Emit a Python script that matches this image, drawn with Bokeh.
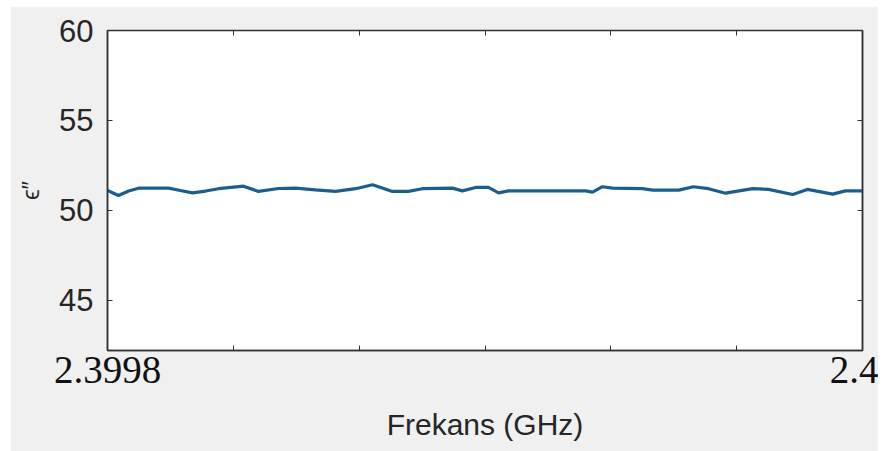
from bokeh.plotting import figure
from bokeh.models import FixedTicker, LinearAxis, Range1d, NumeralTickFormatter, CustomJSTickFormatter
from bokeh.embed import file_html
from bokeh.resources import INLINE

# Data
freq_ghz = [2.3998000, 2.3998029, 2.3998056, 2.3998082, 2.3998162, 2.3998193,
            2.3998225, 2.3998260, 2.3998294, 2.3998360, 2.3998400, 2.3998453,
            2.3998498, 2.3998551, 2.3998604, 2.3998657, 2.3998702, 2.3998755,
            2.3998797, 2.3998834, 2.3998914, 2.3998940, 2.3998975, 2.3999009,
            2.3999036, 2.3999062, 2.3999266, 2.3999285, 2.3999311, 2.3999338,
            2.3999417, 2.3999444, 2.3999513, 2.3999552, 2.3999592, 2.3999637,
            2.3999709, 2.3999751, 2.3999815, 2.3999854, 2.3999921, 2.3999955,
            2.4000000]
eps_imag = [51.11, 50.83, 51.08, 51.24, 51.24, 51.11,
            50.98, 51.08, 51.21, 51.35, 51.06, 51.22,
            51.24, 51.14, 51.06, 51.21, 51.43, 51.06,
            51.06, 51.21, 51.24, 51.09, 51.28, 51.28,
            50.98, 51.09, 51.09, 51.02, 51.32, 51.24,
            51.21, 51.13, 51.13, 51.32, 51.21, 50.96,
            51.21, 51.17, 50.89, 51.17, 50.91, 51.09,
            51.09]

x_tick_labels = [2.3998, 2.4]
x_minor_ticks = [2.3998 + k * 0.0002 / 6 for k in range(1, 6)]
y_ticks = [45, 50, 55, 60]

AX = "#333333"
TXT = "#262626"

p = figure(width=868, height=445, output_backend="svg", toolbar_location=None,
           x_range=Range1d(2.3998, 2.4), y_range=Range1d(42.22, 60),
           x_axis_location=None, y_axis_location=None,
           min_border_left=97, min_border_top=24, min_border_right=16,
           min_border_bottom=101, margin=(6, 5, 0, 10))
p.background_fill_color = "white"
p.border_fill_color = "#f0f0f0"
p.outline_line_color = AX
p.outline_line_width = 1.5
p.xgrid.visible = False
p.ygrid.visible = False

xt = FixedTicker(ticks=x_tick_labels, minor_ticks=x_minor_ticks)
yt = FixedTicker(ticks=y_ticks, minor_ticks=[])
blank = CustomJSTickFormatter(code="return ''")

# bottom axis
xb = LinearAxis(ticker=xt, formatter=NumeralTickFormatter(format="0.[0000]"))
xb.axis_label = "Frekans (GHz)"
xb.axis_label_text_font = "Liberation Sans"
xb.axis_label_text_font_size = "30px"
xb.axis_label_text_font_style = "normal"
xb.axis_label_text_color = TXT
xb.axis_label_standoff = 22
xb.major_label_text_font = "Liberation Serif"
xb.major_label_text_font_size = "39px"
xb.major_label_text_color = "#111111"
xb.major_label_standoff = 6
xb.major_tick_in = 5
xb.major_tick_out = 0
xb.minor_tick_in = 5
xb.minor_tick_out = 0
xb.axis_line_color = AX
xb.axis_line_width = 1.5
xb.major_tick_line_color = AX
xb.minor_tick_line_color = AX
p.add_layout(xb, "below")

# top axis (mirrored ticks, no labels)
xtop = LinearAxis(ticker=xt, formatter=blank)
xtop.major_label_standoff = 0
xtop.major_tick_in = 5
xtop.major_tick_out = 0
xtop.minor_tick_in = 5
xtop.minor_tick_out = 0
xtop.axis_line_color = AX
xtop.major_tick_line_color = AX
xtop.minor_tick_line_color = AX
p.add_layout(xtop, "above")

# left axis
yl = LinearAxis(ticker=yt)
yl.axis_label = "ϵ\u2033"
yl.axis_label_text_font = "Liberation Sans"
yl.axis_label_text_font_size = "24px"
yl.axis_label_text_font_style = "normal"
yl.axis_label_text_color = TXT
yl.axis_label_standoff = 12
yl.major_label_text_font = "Liberation Sans"
yl.major_label_text_font_size = "31px"
yl.major_label_text_color = TXT
yl.major_label_standoff = 14
yl.major_tick_in = 5
yl.major_tick_out = 0
yl.minor_tick_in = 0
yl.minor_tick_out = 0
yl.axis_line_color = AX
yl.axis_line_width = 1.5
yl.major_tick_line_color = AX
p.add_layout(yl, "left")

# right axis (mirrored ticks, no labels)
yr = LinearAxis(ticker=yt, formatter=blank)
yr.major_label_standoff = 0
yr.major_tick_in = 5
yr.major_tick_out = 0
yr.minor_tick_in = 0
yr.minor_tick_out = 0
yr.axis_line_color = AX
yr.axis_line_width = 1.5
yr.major_tick_line_color = AX
p.add_layout(yr, "right")

p.line(freq_ghz, eps_imag, line_color="#1b5e8e", line_width=3.2)

open("out.html", "w").write(file_html(p, INLINE))
